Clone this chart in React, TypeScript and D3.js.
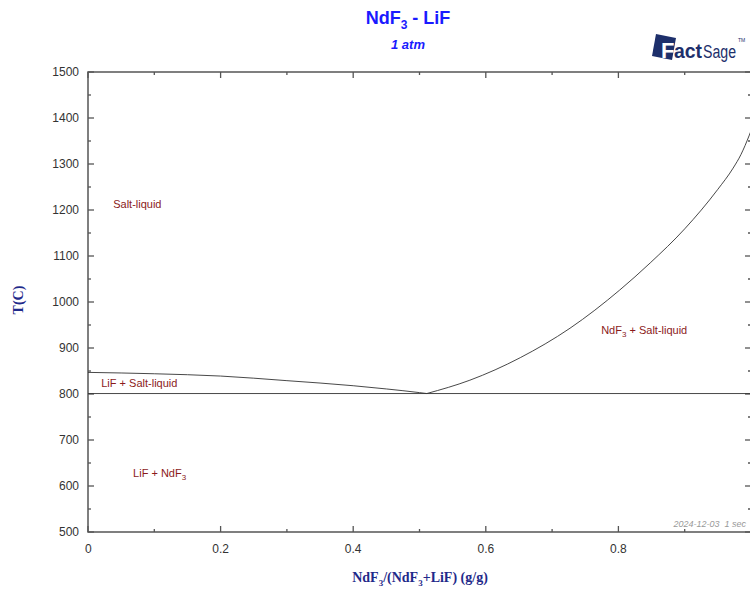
import React, { useEffect, useRef } from 'react';
import * as d3 from 'd3';

// liquidus, LiF side (mass fraction NdF3, T in C)
const lifLiquidus: [number, number][] = [
  [0, 847], [0.1, 844], [0.2, 839], [0.3, 829], [0.4, 818], [0.45, 811], [0.5, 803], [0.511, 801],
];
// liquidus, NdF3 side
const ndf3Liquidus: [number, number][] = [
  [0.511, 801], [0.576, 830], [0.652, 879], [0.727, 943], [0.802, 1026], [0.848, 1085],
  [0.9, 1159], [0.95, 1245], [0.973, 1291], [0.985, 1321], [0.997, 1361], [1.0, 1372],
];
const eutecticT = 801;
const xTicks = [0, 0.2, 0.4, 0.6, 0.8];
const xMinor = [0.1, 0.3, 0.5, 0.7, 0.9];
const yTicks = [500, 600, 700, 800, 900, 1000, 1100, 1200, 1300, 1400, 1500];
const yMinor = [550, 650, 750, 850, 950, 1050, 1150, 1250, 1350, 1450];
const phaseLabels = [
  { name: 'Salt-liquid', x: 0.038, t: 1204 },
  { name: 'NdF3 + Salt-liquid', x: 0.774, t: 930 },
  { name: 'LiF + Salt-liquid', x: 0.02, t: 815 },
  { name: 'LiF + NdF3', x: 0.068, t: 619 },
];

const App = () => {
  const svgRef = useRef<SVGSVGElement>(null);

  useEffect(() => {
    const svg = d3.select(svgRef.current);
    svg.selectAll('*').remove();

    const left = 88, right = 751, top = 72, bottom = 532;
    const x = d3.scaleLinear().domain([0, 1]).range([left, right]);
    const y = d3.scaleLinear().domain([500, 1500]).range([bottom, top]);
    const axisColor = '#555';
    const sans = 'Liberation Sans, Arial, sans-serif';

    // title
    const title = svg.append('text').attr('x', 408).attr('y', 24).attr('text-anchor', 'middle')
      .attr('font-family', sans).attr('font-weight', 'bold')
      .attr('font-size', 18).attr('fill', '#1a1aff');
    title.append('tspan').text('NdF');
    title.append('tspan').attr('font-size', 12).attr('dy', 5).text('3');
    title.append('tspan').attr('dy', -5).text(' - LiF');
    svg.append('text').attr('x', 408).attr('y', 49).attr('text-anchor', 'middle')
      .attr('font-family', sans).attr('font-weight', 'bold')
      .attr('font-style', 'italic').attr('font-size', 13).attr('fill', '#1a1aff').text('1 atm');

    // logo
    const logo = svg.append('g').attr('transform', 'translate(652,32)');
    logo.append('path').attr('d', 'M4,2 L24,6 L20,28 L0,24 Z').attr('fill', '#1d2f6b');
    logo.append('text').attr('x', 9).attr('y', 26).attr('font-family', sans)
      .attr('font-weight', 'bold').attr('font-size', 22).attr('fill', '#fff').text('F');
    logo.append('text').attr('x', 22).attr('y', 26).attr('font-family', sans)
      .attr('font-weight', 'bold').attr('font-size', 20).attr('fill', '#1d2f6b')
      .attr('textLength', 28).attr('lengthAdjust', 'spacingAndGlyphs').text('act');
    logo.append('text').attr('x', 51).attr('y', 26).attr('font-family', sans)
      .attr('font-size', 18).attr('fill', '#1d2f6b')
      .attr('textLength', 33).attr('lengthAdjust', 'spacingAndGlyphs').text('Sage');
    logo.append('text').attr('x', 86).attr('y', 10).attr('font-family', sans)
      .attr('font-size', 5).attr('fill', '#1d2f6b').text('TM');

    // frame
    svg.append('rect').attr('x', left).attr('y', top).attr('width', right - left).attr('height', bottom - top)
      .attr('fill', 'none').attr('stroke', axisColor).attr('stroke-width', 1.5);

    const ticks = svg.append('g').attr('stroke', axisColor).attr('stroke-width', 1.3);
    xTicks.forEach(v => {
      ticks.append('line').attr('x1', x(v)).attr('x2', x(v)).attr('y1', bottom).attr('y2', bottom - 6);
      ticks.append('line').attr('x1', x(v)).attr('x2', x(v)).attr('y1', top).attr('y2', top + 6);
    });
    xMinor.forEach(v => {
      ticks.append('line').attr('x1', x(v)).attr('x2', x(v)).attr('y1', bottom).attr('y2', bottom - 3);
      ticks.append('line').attr('x1', x(v)).attr('x2', x(v)).attr('y1', top).attr('y2', top + 3);
    });
    yTicks.forEach(v => {
      ticks.append('line').attr('x1', left).attr('x2', left + 6).attr('y1', y(v)).attr('y2', y(v));
      ticks.append('line').attr('x1', right).attr('x2', right - 6).attr('y1', y(v)).attr('y2', y(v));
    });
    yMinor.forEach(v => {
      ticks.append('line').attr('x1', left).attr('x2', left + 3).attr('y1', y(v)).attr('y2', y(v));
      ticks.append('line').attr('x1', right).attr('x2', right - 3).attr('y1', y(v)).attr('y2', y(v));
    });

    svg.append('g').selectAll('text').data(xTicks).enter().append('text')
      .attr('x', d => x(d)).attr('y', 553).attr('text-anchor', d => (d === 0 ? 'start' : 'middle'))
      .attr('dx', d => (d === 0 ? -3 : 0))
      .attr('font-family', sans).attr('font-size', 12).attr('fill', '#333').text(d => String(d));
    svg.append('g').selectAll('text').data(yTicks).enter().append('text')
      .attr('x', 79).attr('y', d => y(d) + 4).attr('text-anchor', 'end')
      .attr('font-family', sans).attr('font-size', 12).attr('fill', '#333').text(d => String(d));

    // axis titles
    const xl = svg.append('text').attr('x', 420).attr('y', 582).attr('text-anchor', 'middle')
      .attr('font-family', 'Liberation Serif, Times New Roman, serif').attr('font-weight', 'bold')
      .attr('font-size', 14).attr('fill', '#1f2a8a');
    xl.append('tspan').text('NdF');
    xl.append('tspan').attr('font-size', 9).attr('dy', 4).text('3');
    xl.append('tspan').attr('dy', -4).text('/(NdF');
    xl.append('tspan').attr('font-size', 9).attr('dy', 4).text('3');
    xl.append('tspan').attr('dy', -4).text('+LiF) (g/g)');
    svg.append('text').attr('transform', 'translate(23,300) rotate(-90)').attr('text-anchor', 'middle')
      .attr('font-family', 'Liberation Serif, Times New Roman, serif').attr('font-weight', 'bold')
      .attr('font-size', 14).attr('fill', '#1f2a8a').text('T(C)');

    // phase boundaries
    const line = d3.line<[number, number]>().x(d => x(d[0])).y(d => y(d[1])).curve(d3.curveMonotoneX);
    const curves = svg.append('g').attr('fill', 'none').attr('stroke', '#333').attr('stroke-width', 0.9);
    curves.append('path').attr('d', line(lifLiquidus));
    curves.append('path').attr('d', line(ndf3Liquidus));
    curves.append('line').attr('x1', x(0)).attr('x2', x(1)).attr('y1', y(eutecticT)).attr('y2', y(eutecticT));

    // phase labels
    phaseLabels.forEach(p => {
      const t = svg.append('text').attr('x', x(p.x)).attr('y', y(p.t))
        .attr('font-family', sans).attr('font-size', 11).attr('fill', '#8b1a1a');
      const parts = p.name.split('NdF3');
      parts.forEach((s, i) => {
        if (i > 0) {
          t.append('tspan').text('NdF');
          t.append('tspan').attr('font-size', 8).attr('dy', 3).text('3');
          t.append('tspan').attr('dy', -3).text(s);
        } else if (s) {
          t.append('tspan').text(s);
        }
      });
    });

    svg.append('text').attr('x', 746).attr('y', 527).attr('text-anchor', 'end')
      .attr('font-family', sans).attr('font-style', 'italic').attr('font-size', 9).attr('fill', '#999')
      .attr('xml:space', 'preserve').text('2024-12-03  1 sec');
  }, []);

  return (
    <svg ref={svgRef} width={750} height={590}
      style={{ position: 'absolute', left: 0, top: 0, background: '#fff' }} />
  );
};

export default App;
